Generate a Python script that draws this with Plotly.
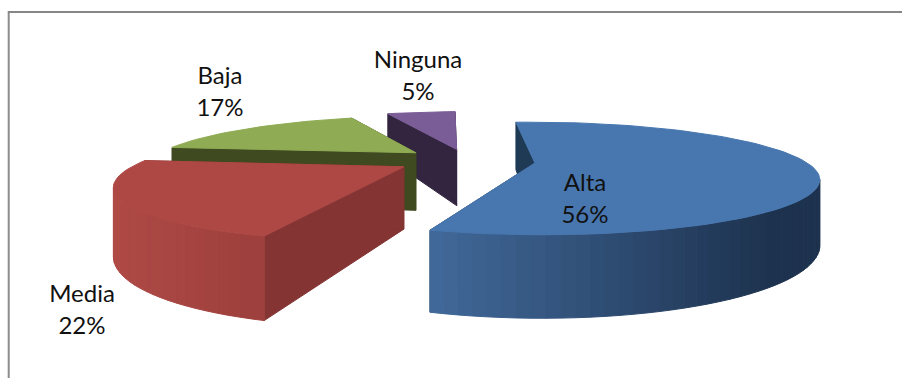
import math
import plotly.graph_objects as go

categories = ["Alta", "Media", "Baja", "Ninguna"]
values = [56, 22, 17, 5]
top_colors = ["#4877B0", "#AE4845", "#8FAB53", "#7A5C96"]
wall_colors = ["#1E3A55", "#843533", "#3F4A21", "#33253F"]
rim_left = ["#41699A", "#AF4A46", "#3F4A21", "#33253F"]
rim_right = ["#1D324E", "#9E403D", "#3F4A21", "#33253F"]
label_xy = [(585, 201), (82, 312), (220, 94), (418, 78)]
draw_order = [3, 2, 0, 1]
radius_scale = [0.975, 0.945, 0.96, 1.05]
screen_shift = [(3, 1), (2, -1), (5, 0), (5, 1)]
shear = [14, 5, 4, 14]

START_DEG = -4.0
GX, GY = 463.0, 160.4
RX, RY = 277.0, 52.5
K = 0.28
EXPLODE = 0.25
HEIGHT = 60.0


def hex_rgb(h):
    return tuple(int(h[i:i + 2], 16) for i in (1, 3, 5))


def mix(a, b, t):
    ca, cb = hex_rgb(a), hex_rgb(b)
    return "rgb(%d,%d,%d)" % tuple(round(ca[i] + (cb[i] - ca[i]) * t) for i in range(3))


def project(i, mid, theta, r):
    ox = EXPLODE * math.sin(mid)
    oz = EXPLODE * math.cos(mid)
    s = radius_scale[i]
    X = ox + r * s * math.sin(theta)
    Z = oz + r * s * math.cos(theta)
    d = 1 + K * Z
    return (GX + screen_shift[i][0] + (RX * X + shear[i] * Z) / d,
            GY + screen_shift[i][1] - RY * Z / d,
            HEIGHT / d)


fig = go.Figure()


def poly(xs, ys, color):
    fig.add_trace(go.Scatter(x=xs + xs[:1], y=ys + ys[:1], mode="lines", fill="toself",
                             fillcolor=color, line=dict(color=color, width=1),
                             hoverinfo="skip", showlegend=False))


total = sum(values)
angles = []
a = math.radians(START_DEG)
for v in values:
    b = a + 2 * math.pi * v / total
    angles.append((a, b))
    a = b

for i in draw_order:
    a, b = angles[i]
    mid = (a + b) / 2
    n = max(6, int(values[i] * 1.6))
    thetas = [a + (b - a) * j / n for j in range(n + 1)]
    apex = project(i, mid, 0, 0)
    pa = project(i, mid, a, 1)
    pb = project(i, mid, b, 1)
    # radial walls
    for p in (pa, pb):
        poly([apex[0], p[0], p[0], apex[0]],
             [apex[1], p[1], p[1] + p[2], apex[1] + apex[2]], wall_colors[i])
    # outer wall, shaded strip by strip; only strips facing the viewer
    rim = [project(i, mid, t, 1) for t in thetas]
    xmin = min(p[0] for p in rim)
    xmax = max(p[0] for p in rim)
    for j in range(n):
        p, q = rim[j], rim[j + 1]
        if q[0] >= p[0]:
            continue
        t = ((p[0] + q[0]) / 2 - xmin) / (xmax - xmin)
        poly([p[0], q[0], q[0], p[0]], [p[1], q[1], q[1] + q[2], p[1] + p[2]],
             mix(rim_left[i], rim_right[i], min(1, t / 0.88)))
    # top face
    poly([apex[0]] + [p[0] for p in rim], [apex[1]] + [p[1] for p in rim], top_colors[i])

fig.add_trace(go.Scatter(
    x=[p[0] for p in label_xy], y=[p[1] for p in label_xy], mode="text",
    text=["%s<br>%d%%" % (c, round(v * 100 / total)) for c, v in zip(categories, values)],
    textfont=dict(family="Lato", size=24, color="#111111"),
    textposition="middle center", hoverinfo="skip", showlegend=False))

fig.add_shape(type="line", x0=8.7, x1=8.7, y0=11, y1=378, line=dict(color="#8C8C8C", width=2))
fig.add_shape(type="line", x0=8, x1=902, y0=12, y1=12, line=dict(color="#868686", width=2))

fig.update_layout(width=902, height=378, margin=dict(l=0, r=0, t=0, b=0),
                  paper_bgcolor="white", plot_bgcolor="white",
                  xaxis=dict(range=[0, 902], visible=False, fixedrange=True),
                  yaxis=dict(range=[378, 0], visible=False, fixedrange=True))
fig.write_html("out.html", config={"displayModeBar": False},
               post_script="document.body.style.margin='0';document.body.style.overflow='hidden';")
